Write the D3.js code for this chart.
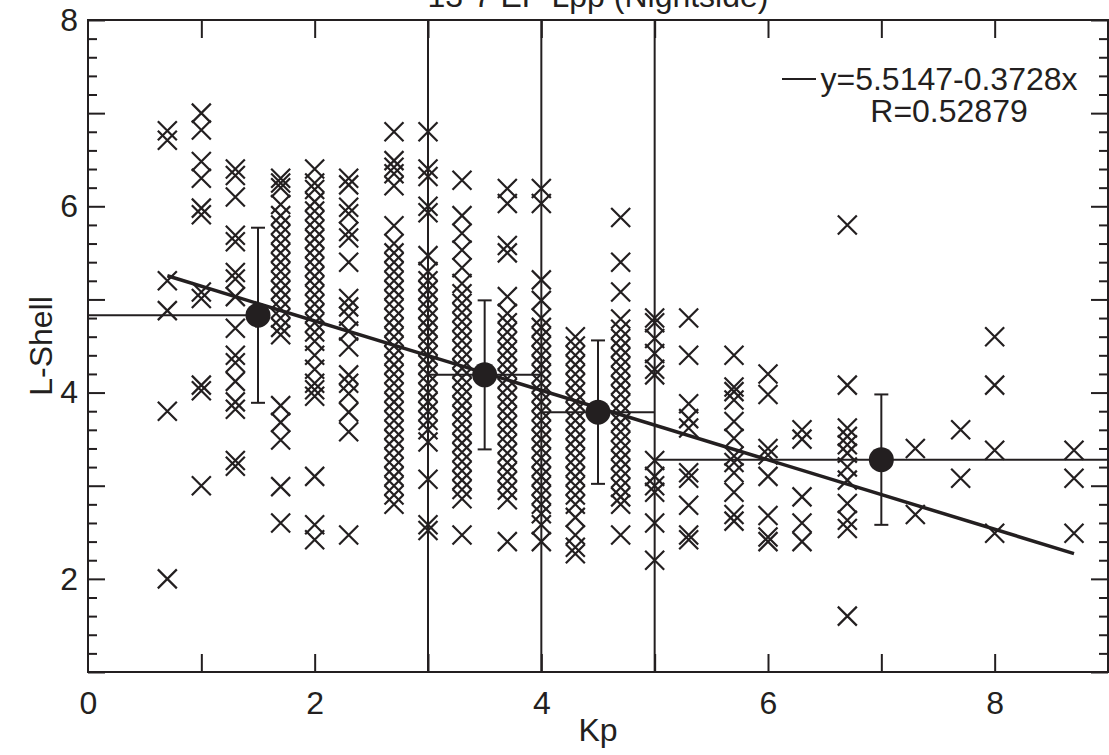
<!DOCTYPE html>
<html>
<head>
<meta charset="utf-8">
<script src="https://cdn.jsdelivr.net/npm/d3@7"></script>
<style>
  html, body { margin: 0; padding: 0; background: #fff; }
  svg text { font-family: "Liberation Sans", Arial, Helvetica, sans-serif; fill: #231f20; }
</style>
</head>
<body>
<svg id="chart" width="1109" height="755"></svg>
<script>
// Kp levels of the plasmapause crossings and the L-shell of each crossing
const kpLevels = [0.7, 1.0, 1.3, 1.7, 2.0, 2.3, 2.7, 3.0, 3.3, 3.7, 4.0, 4.3, 4.7,
                  5.0, 5.3, 5.7, 6.0, 6.3, 6.7, 7.3, 7.7, 8.0, 8.7];
const lShellAtKp = [
  [6.81, 6.71, 5.20, 4.88, 3.80, 2.00],
  [7.00, 6.82, 6.48, 6.30, 5.98, 5.91, 5.08, 5.01, 4.08, 4.02, 3.00],
  [6.40, 6.33, 6.10, 5.69, 5.62, 5.29, 5.22, 5.03, 4.69, 4.40, 4.32, 4.12, 3.90, 3.82, 3.27, 3.21],
  [6.30, 6.25, 6.20, 6.02, 5.90, 5.80, 5.70, 5.60, 5.50, 5.40, 5.30, 5.20, 5.10, 5.00, 4.90, 4.80,
   4.70, 4.62, 3.86, 3.68, 3.49, 2.99, 2.60],
  [6.40, 6.25, 6.18, 6.05, 5.95, 5.85, 5.75, 5.65, 5.55, 5.45, 5.35, 5.25, 5.15, 5.05, 4.95, 4.85,
   4.75, 4.65, 4.55, 4.40, 4.25, 4.10, 4.03, 3.96, 3.10, 2.58, 2.42],
  [6.30, 6.23, 5.99, 5.92, 5.73, 5.66, 5.40, 5.01, 4.92, 4.82, 4.66, 4.49, 4.19, 4.10, 3.99, 3.79, 3.58, 2.47],
  [6.80, 6.49, 6.42, 6.35, 6.22, 5.79, 5.60, 5.50, 5.40, 5.30, 5.20, 5.10, 5.00, 4.90, 4.80, 4.70,
   4.60, 4.50, 4.40, 4.30, 4.20, 4.10, 4.00, 3.90, 3.80, 3.70, 3.60, 3.50, 3.40, 3.30, 3.20, 3.10,
   3.00, 2.90, 2.80],
  [6.80, 6.40, 6.32, 6.00, 5.93, 5.47, 5.30, 5.20, 5.10, 5.00, 4.90, 4.80, 4.70, 4.60, 4.50, 4.40,
   4.30, 4.20, 4.10, 4.00, 3.90, 3.80, 3.70, 3.60, 3.47, 3.07, 2.58, 2.52],
  [6.28, 5.90, 5.71, 5.53, 5.34, 5.17, 5.06, 4.96, 4.86, 4.76, 4.66, 4.56, 4.46, 4.36, 4.26, 4.16,
   4.06, 3.96, 3.86, 3.76, 3.66, 3.56, 3.46, 3.36, 3.26, 3.16, 3.06, 2.96, 2.86, 2.47],
  [6.19, 6.03, 5.58, 5.50, 5.03, 4.85, 4.75, 4.65, 4.55, 4.45, 4.35, 4.25, 4.15, 4.05, 3.95, 3.85,
   3.75, 3.65, 3.55, 3.45, 3.35, 3.25, 3.15, 3.05, 2.95, 2.85, 2.40],
  [6.19, 6.03, 5.21, 4.99, 4.80, 4.70, 4.60, 4.50, 4.40, 4.30, 4.20, 4.10, 4.00, 3.90, 3.80, 3.70,
   3.60, 3.50, 3.40, 3.30, 3.20, 3.10, 3.00, 2.90, 2.80, 2.70, 2.58, 2.40],
  [4.60, 4.50, 4.40, 4.30, 4.20, 4.10, 4.00, 3.90, 3.80, 3.70, 3.60, 3.50, 3.40, 3.30, 3.20, 3.10,
   3.00, 2.90, 2.80, 2.66, 2.47, 2.34, 2.27],
  [5.88, 5.40, 5.08, 4.79, 4.68, 4.58, 4.48, 4.38, 4.28, 4.18, 4.08, 3.98, 3.88, 3.78, 3.68, 3.58,
   3.48, 3.38, 3.28, 3.18, 3.08, 2.98, 2.88, 2.80, 2.47],
  [4.80, 4.75, 4.58, 4.42, 4.25, 4.19, 3.27, 3.10, 3.00, 2.93, 2.60, 2.20],
  [4.80, 4.40, 3.88, 3.72, 3.62, 3.14, 3.08, 2.79, 2.47, 2.42],
  [4.40, 4.06, 4.01, 3.92, 3.69, 3.51, 3.32, 3.25, 3.14, 2.93, 2.69, 2.62],
  [4.20, 3.98, 3.40, 3.33, 3.10, 2.68, 2.45, 2.40],
  [3.60, 3.50, 2.88, 2.60, 2.40],
  [5.80, 4.08, 3.62, 3.53, 3.44, 3.35, 3.20, 3.06, 2.81, 2.63, 2.54, 1.60],
  [3.40, 2.69],
  [3.60, 3.08],
  [4.60, 4.08, 3.38, 2.49],
  [3.38, 3.08, 2.49]
];

// Binned means with one standard deviation
const binCentre = [1.5, 3.5, 4.5, 7.0];
const binMean   = [4.83, 4.19, 3.79, 3.28];
const binSigma  = [0.94, 0.80, 0.77, 0.70];
const binStart  = [0, 3, 4, 5];
const binEnd    = [1.5, 4, 5, 9];

// Bin boundaries drawn as vertical lines
const kpBoundaries = [3, 4, 5];

// Linear fit
const fitIntercept = 5.5147;
const fitSlope = -0.3728;
const fitRange = [0.7, 8.7];
const fitLabel = "y=5.5147-0.3728x";
const corrLabel = "R=0.52879";

const xTickLabels = [0, 2, 4, 6, 8];
const yTickLabels = [2, 4, 6, 8];

const ink = "#231f20";
const fontSize = 32;
const svg = d3.select("#chart");
const margin = { left: 88, right: 1, top: 20, bottom: 83 };
const W = 1109, H = 755;

const x = d3.scaleLinear().domain([0, 9]).range([margin.left, W - margin.right]);
const y = d3.scaleLinear().domain([1, 8]).range([H - margin.bottom, margin.top]);

const g = svg.append("g");

// Bin boundaries
g.selectAll("line.bound").data(kpBoundaries).enter().append("line")
  .attr("x1", d => x(d)).attr("x2", d => x(d))
  .attr("y1", y(1)).attr("y2", y(8))
  .attr("stroke", ink).attr("stroke-width", 2);

// Scatter as X markers
const pts = [];
kpLevels.forEach((k, i) => lShellAtKp[i].forEach(l => pts.push([k, l])));
const half = 9.5;
g.selectAll("path.pt").data(pts).enter().append("path")
  .attr("d", d => {
    const cx = x(d[0]), cy = y(d[1]);
    return `M${cx - half},${cy - half}L${cx + half},${cy + half}M${cx - half},${cy + half}L${cx + half},${cy - half}`;
  })
  .attr("stroke", ink).attr("stroke-width", 2.2).attr("fill", "none");

// Fit line
g.append("line")
  .attr("x1", x(fitRange[0])).attr("y1", y(fitIntercept + fitSlope * fitRange[0]))
  .attr("x2", x(fitRange[1])).attr("y2", y(fitIntercept + fitSlope * fitRange[1]))
  .attr("stroke", ink).attr("stroke-width", 3.5);

// Bin means: horizontal extents, error bars, dots
binCentre.forEach((c, i) => {
  const m = binMean[i], s = binSigma[i];
  g.append("line")
    .attr("x1", x(binStart[i])).attr("x2", x(binEnd[i]))
    .attr("y1", y(m)).attr("y2", y(m))
    .attr("stroke", ink).attr("stroke-width", 2);
  g.append("line")
    .attr("x1", x(c)).attr("x2", x(c))
    .attr("y1", y(m - s)).attr("y2", y(m + s))
    .attr("stroke", ink).attr("stroke-width", 2);
  [m - s, m + s].forEach(v => {
    g.append("line")
      .attr("x1", x(c) - 7).attr("x2", x(c) + 7)
      .attr("y1", y(v)).attr("y2", y(v))
      .attr("stroke", ink).attr("stroke-width", 2);
  });
  g.append("circle")
    .attr("cx", x(c)).attr("cy", y(m)).attr("r", 12.5)
    .attr("fill", ink);
});

// Axes with inward ticks on all four sides
const xTicks = d3.range(1, 9);
const yMajor = d3.range(1, 9);
const yMinor = d3.range(1, 8.01, 0.2).filter(v => Math.abs(v - Math.round(v)) > 1e-6);

function styleAxis(sel) {
  sel.selectAll(".domain").remove();
  sel.selectAll(".tick line").attr("stroke", ink).attr("stroke-width", 2);
  sel.selectAll("text").attr("font-size", fontSize).attr("fill", ink);
}

svg.append("g").attr("transform", `translate(0,${y(1)})`)
  .call(d3.axisBottom(x).tickValues(xTicks).tickSize(-18).tickFormat(""))
  .call(styleAxis);
svg.append("g").attr("transform", `translate(0,${y(1)})`)
  .call(d3.axisBottom(x).tickValues(xTickLabels).tickSize(0).tickPadding(19).tickFormat(d3.format("d")))
  .call(styleAxis);
svg.append("g").attr("transform", `translate(0,${y(8)})`)
  .call(d3.axisTop(x).tickValues(xTicks).tickSize(-18).tickFormat(""))
  .call(styleAxis);

svg.append("g").attr("transform", `translate(${x(0)},0)`)
  .call(d3.axisLeft(y).tickValues(yMajor).tickSize(-17).tickFormat(""))
  .call(styleAxis);
svg.append("g").attr("transform", `translate(${x(0)},0)`)
  .call(d3.axisLeft(y).tickValues(yMinor).tickSize(-9).tickFormat(""))
  .call(styleAxis);
svg.append("g").attr("transform", `translate(${x(0)},0)`)
  .call(d3.axisLeft(y).tickValues(yTickLabels).tickSize(0).tickPadding(10).tickFormat(d3.format("d")))
  .call(styleAxis);
svg.append("g").attr("transform", `translate(${x(9)},0)`)
  .call(d3.axisRight(y).tickValues(yMajor).tickSize(-17).tickFormat(""))
  .call(styleAxis);
svg.append("g").attr("transform", `translate(${x(9)},0)`)
  .call(d3.axisRight(y).tickValues(yMinor).tickSize(-9).tickFormat(""))
  .call(styleAxis);

// Frame
svg.append("rect")
  .attr("x", x(0)).attr("y", y(8))
  .attr("width", x(9) - x(0)).attr("height", y(1) - y(8))
  .attr("fill", "none").attr("stroke", ink).attr("stroke-width", 2);

// Titles
svg.append("text")
  .attr("x", (x(0) + x(9)) / 2).attr("y", 7)
  .attr("text-anchor", "middle").attr("font-size", fontSize)
  .text("13-7 EP Lpp (Nightside)");
svg.append("text")
  .attr("x", (x(0) + x(9)) / 2).attr("y", 741)
  .attr("text-anchor", "middle").attr("font-size", fontSize)
  .text("Kp");
svg.append("text")
  .attr("transform", `translate(52,${(y(1) + y(8)) / 2}) rotate(-90)`)
  .attr("text-anchor", "middle").attr("font-size", fontSize)
  .text("L-Shell");

// Fit legend
svg.append("line")
  .attr("x1", 782).attr("x2", 816).attr("y1", 79).attr("y2", 79)
  .attr("stroke", ink).attr("stroke-width", 2);
svg.append("text")
  .attr("x", 949).attr("y", 90).attr("text-anchor", "middle").attr("font-size", fontSize)
  .text(fitLabel);
svg.append("text")
  .attr("x", 949).attr("y", 122).attr("text-anchor", "middle").attr("font-size", fontSize)
  .text(corrLabel);
</script>
</body>
</html>
